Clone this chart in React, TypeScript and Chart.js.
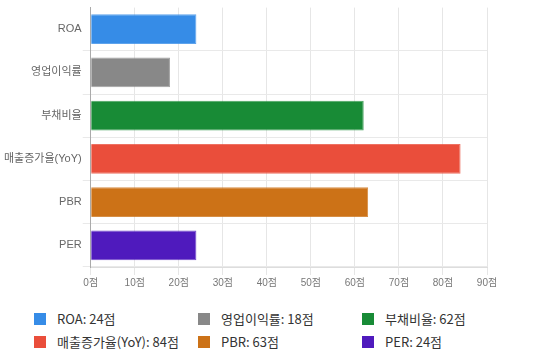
import React, { useEffect, useRef } from "react";
import { Chart, registerables } from "chart.js";

Chart.register(...registerables);

const categories = ["ROA", "영업이익률", "부채비율", "매출증가율(YoY)", "PBR", "PER"];
const scores = [24, 18, 62, 84, 63, 24];
const colors = ["#368ce7", "#888888", "#188b36", "#ea4e3b", "#cc7217", "#4f1abd"];
const xTicks = [0, 10, 20, 30, 40, 50, 60, 70, 80, 90];

const tickFamily = "Arial, 'Liberation Sans', 'Noto Sans CJK KR', sans-serif";

export default function App() {
  const ref = useRef<HTMLCanvasElement>(null);
  useEffect(() => {
    document.body.style.margin = "0";
    const ctx = ref.current!;
    const chart = new Chart(ctx, {
      type: "bar",
      data: {
        labels: categories,
        datasets: [
          {
            data: scores,
            backgroundColor: colors,
            borderColor: colors.map((c) => c + "cc"),
            borderWidth: 1,
            categoryPercentage: 0.86,
            barPercentage: 0.8,
          },
        ],
      },
      options: {
        indexAxis: "y",
        responsive: false,
        animation: false,
        layout: { padding: { top: 5, right: 53, left: 3, bottom: 0 } },
        plugins: { legend: { display: false }, tooltip: { enabled: false } },
        scales: {
          x: {
            min: 0,
            max: 90,
            afterBuildTicks: (axis: any) => {
              axis.ticks = xTicks.map((v) => ({ value: v }));
            },
            ticks: {
              color: "#777",
              font: { size: 10, family: tickFamily },
              padding: 2,
              callback: (v: any) => `${v}점`,
            },
            grid: { color: "#e6e6e6" },
            border: { color: "#dddddd" },
          },
          y: {
            ticks: {
              color: "#666",
              font: { size: 11, family: tickFamily },
              padding: 1,
            },
            grid: {
              color: (c: any) => (c.index === 0 ? "rgba(0,0,0,0)" : "#e9e9e9"),
            },
            border: { color: "#aaaaaa" },
          },
        },
      },
    });
    return () => chart.destroy();
  }, []);

  const legendFont = "'Noto Sans CJK KR', 'Noto Sans', sans-serif";
  return (
    <div style={{ width: 540, position: "relative" }}>
      <canvas ref={ref} width={540} height={291} style={{ display: "block" }} />
      <div
        style={{
          display: "grid",
          gridTemplateColumns: "164px 164px 164px",
          rowGap: 4,
          marginLeft: 34,
          marginTop: 18,
          fontFamily: legendFont,
          fontSize: 13,
          color: "#333",
        }}
      >
        {categories.map((c, i) => (
          <div key={c} style={{ display: "flex", alignItems: "center", height: 19 }}>
            <span
              style={{
                display: "inline-block",
                width: 12,
                height: 12,
                background: colors[i],
                marginRight: 11,
              }}
            />
            <span>{`${c}: ${scores[i]}점`}</span>
          </div>
        ))}
      </div>
    </div>
  );
}
